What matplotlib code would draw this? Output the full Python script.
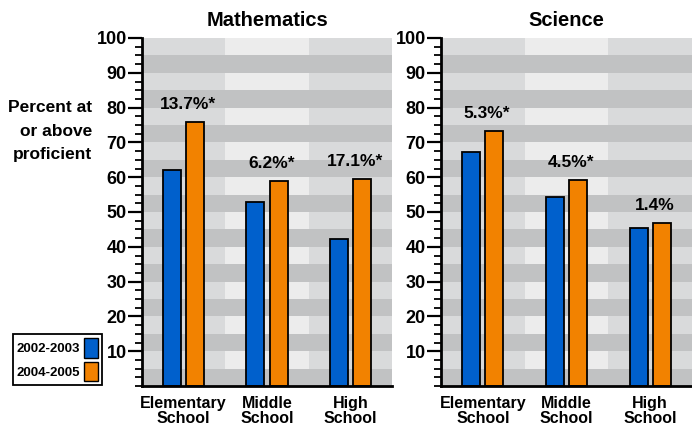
import matplotlib
matplotlib.use("Agg")
import matplotlib.pyplot as plt
from matplotlib.patches import Rectangle
import numpy as np

plt.rcParams["font.family"] = ["Liberation Sans Narrow", "Liberation Sans", "DejaVu Sans"]
plt.rcParams["font.weight"] = "bold"

schools = ["Elementary\nSchool", "Middle\nSchool", "High\nSchool"]
years = ["2002-2003", "2004-2005"]

math_2003 = [62.0, 52.8, 42.2]
math_2005 = [76.0, 59.0, 59.4]
math_change = ["13.7%*", "6.2%*", "17.1%*"]

sci_2003 = [67.2, 54.4, 45.3]
sci_2005 = [73.3, 59.1, 46.9]
sci_change = ["5.3%*", "4.5%*", "1.4%"]

BLUE = "#0060cc"
ORANGE = "#f28200"
DARK = "#c1c2c3"
SIDE = "#d9dadb"
MIDDLE = "#ececec"

fig = plt.figure(figsize=(6.92, 4.25), dpi=100)
ax_m = fig.add_axes([142 / 692, 1 - 386 / 425, 250 / 692, 348 / 425])
ax_s = fig.add_axes([441 / 692, 1 - 386 / 425, 251 / 692, 348 / 425])


def draw_panel(ax, title, before, after, changes):
    x = np.arange(len(schools))
    # striped backdrop: light columns per school, darker bands every other 5 points
    for i in x:
        ax.add_patch(Rectangle((i - 0.5, 0), 1, 100, color=MIDDLE if i == 1 else SIDE, lw=0, zorder=0))
    for y0 in range(0, 100, 10):
        ax.add_patch(Rectangle((-0.5, y0), 3, 5, color=DARK, lw=0, zorder=0.5))

    w = 0.215
    off = 0.139
    ax.bar(x - off, before, w, color=BLUE, edgecolor="black", linewidth=1.3, zorder=2)
    ax.bar(x + off, after, w, color=ORANGE, edgecolor="black", linewidth=1.3, zorder=2)
    for xi, top, txt in zip(x, after, changes):
        ax.text(xi + 0.05, top + 5, txt, ha="center", va="center", fontsize=12.5, fontweight="bold")

    ax.set_xlim(-0.5, 2.5)
    ax.set_ylim(0, 100)
    ax.set_xticks(x)
    ax.set_xticklabels(schools, fontsize=11.5, fontweight="bold", linespacing=1.0)
    ax.tick_params(axis="x", length=0, pad=7)
    ax.set_yticks(np.arange(10, 101, 10))
    ax.set_yticks(np.arange(0, 100, 2.5), minor=True)
    ax.tick_params(axis="y", which="major", length=10, width=1.6, labelsize=13, pad=1)
    ax.tick_params(axis="y", which="minor", length=5, width=1.3)
    for lbl in ax.get_yticklabels():
        lbl.set_fontweight("bold")
    for side in ["top", "right"]:
        ax.spines[side].set_visible(False)
    ax.spines["left"].set_linewidth(2)
    ax.spines["bottom"].set_linewidth(2)
    ax.set_title(title, fontsize=14.5, fontweight="bold", pad=9)


draw_panel(ax_m, "Mathematics", math_2003, math_2005, math_change)
draw_panel(ax_s, "Science", sci_2003, sci_2005, sci_change)

fig.text(92 / 692, 1 - 131 / 425, "Percent at\nor above\nproficient", ha="right", va="center",
         fontsize=12.5, fontweight="bold", linespacing=1.75)

handles = [Rectangle((0, 0), 1, 1, facecolor=c, edgecolor="black", linewidth=1) for c in (BLUE, ORANGE)]
leg = fig.legend(handles, years, loc="lower left", bbox_to_anchor=(13 / 692, 1 - 385 / 425),
                 markerfirst=False, fontsize=9.5, handlelength=1.05, handleheight=1.9,
                 handletextpad=0.3, borderpad=0.3, borderaxespad=0, labelspacing=0.3,
                 fancybox=False, edgecolor="black", framealpha=1)
leg.get_frame().set_linewidth(1.3)
for t in leg.get_texts():
    t.set_fontweight("bold")

fig.savefig("out.png", dpi=100)
